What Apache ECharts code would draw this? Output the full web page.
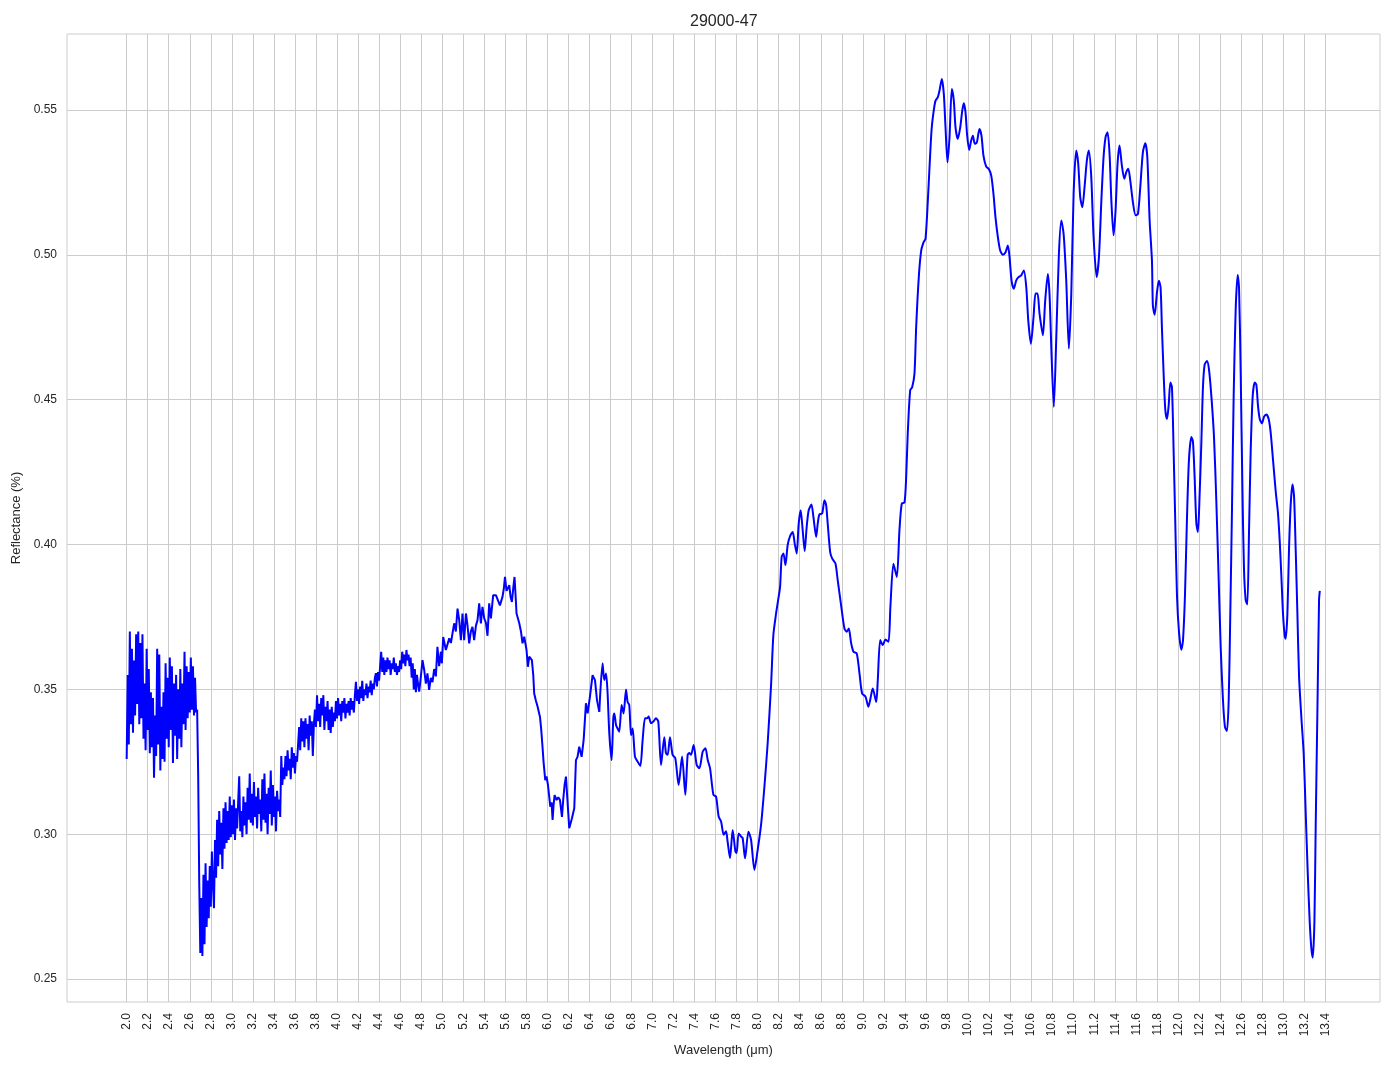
<!DOCTYPE html>
<html>
<head>
<meta charset="utf-8">
<script src="https://cdn.jsdelivr.net/npm/echarts@6/dist/echarts.min.js"></script>
<style>
html,body{margin:0;padding:0;background:#fff;}
#chart{width:1394px;height:1069px;}
</style>
</head>
<body>
<div id="chart"></div>
<script>
const chartTitle = "29000-47";
const xName = "Wavelength (μm)";
const yName = "Reflectance (%)";

const xTicks = [2.0,2.2,2.4,2.6,2.8,3.0,3.2,3.4,3.6,3.8,4.0,4.2,4.4,4.6,4.8,5.0,5.2,5.4,5.6,5.8,6.0,6.2,6.4,6.6,6.8,7.0,7.2,7.4,7.6,7.8,8.0,8.2,8.4,8.6,8.8,9.0,9.2,9.4,9.6,9.8,10.0,10.2,10.4,10.6,10.8,11.0,11.2,11.4,11.6,11.8,12.0,12.2,12.4,12.6,12.8,13.0,13.2,13.4];
const yTicks = [0.25,0.30,0.35,0.40,0.45,0.50,0.55];

// [wavelength (µm), reflectance]
const segA = [[2.00,0.326],[2.01,0.355],[2.02,0.331],[2.03,0.370],[2.04,0.338],[2.05,0.364],[2.06,0.335],[2.07,0.360],[2.08,0.341],[2.09,0.369],[2.10,0.345],[2.11,0.370],[2.12,0.338],[2.13,0.366],[2.14,0.340],[2.15,0.369],[2.16,0.333],[2.17,0.352],[2.18,0.329],[2.19,0.364],[2.20,0.336],[2.21,0.357],[2.22,0.328],[2.23,0.349],[2.24,0.330],[2.25,0.347],[2.26,0.3195],[2.27,0.341],[2.28,0.327],[2.29,0.364],[2.30,0.331],[2.31,0.362],[2.32,0.322],[2.33,0.344],[2.34,0.326],[2.35,0.349],[2.36,0.325],[2.37,0.359],[2.38,0.333],[2.39,0.354],[2.40,0.330],[2.41,0.361],[2.42,0.336],[2.43,0.358],[2.44,0.3246],[2.45,0.352],[2.46,0.334],[2.47,0.355],[2.48,0.326],[2.49,0.350],[2.50,0.333],[2.51,0.357],[2.52,0.330],[2.53,0.352],[2.54,0.338],[2.55,0.363],[2.56,0.336],[2.57,0.358],[2.58,0.340],[2.59,0.356],[2.60,0.342],[2.61,0.361],[2.62,0.343],[2.63,0.358],[2.64,0.341],[2.65,0.354],[2.66,0.342],[2.67,0.343]];
const segB = [[2.68,0.320],[2.69,0.283],[2.70,0.259],[2.71,0.278],[2.72,0.258],[2.73,0.286],[2.74,0.262],[2.75,0.290],[2.76,0.268],[2.77,0.284],[2.78,0.271],[2.79,0.289],[2.80,0.275],[2.81,0.294],[2.82,0.283],[2.83,0.2745],[2.84,0.298],[2.85,0.285],[2.86,0.305],[2.87,0.289],[2.88,0.308],[2.89,0.293],[2.90,0.304],[2.91,0.288],[2.92,0.309],[2.93,0.295],[2.94,0.311],[2.95,0.297],[2.96,0.308],[2.97,0.298],[2.98,0.313],[2.99,0.299],[3.00,0.310],[3.01,0.300],[3.02,0.312],[3.03,0.298],[3.04,0.309],[3.05,0.302],[3.06,0.311],[3.07,0.320],[3.08,0.301],[3.09,0.308],[3.10,0.299],[3.11,0.313],[3.12,0.303],[3.13,0.311],[3.14,0.300],[3.15,0.316],[3.16,0.305],[3.17,0.321],[3.18,0.304],[3.19,0.314],[3.20,0.303],[3.21,0.318],[3.22,0.306],[3.23,0.313],[3.24,0.302],[3.25,0.316],[3.26,0.307],[3.27,0.312],[3.28,0.301],[3.29,0.319],[3.30,0.305],[3.31,0.321],[3.32,0.304],[3.33,0.314],[3.34,0.300],[3.35,0.316],[3.36,0.307],[3.37,0.322],[3.38,0.303],[3.39,0.317],[3.40,0.306],[3.41,0.313],[3.42,0.301],[3.43,0.315],[3.44,0.308],[3.45,0.312],[3.46,0.306],[3.47,0.327],[3.48,0.317],[3.49,0.323],[3.50,0.319],[3.51,0.327],[3.52,0.320],[3.53,0.329],[3.54,0.322],[3.55,0.326],[3.56,0.319],[3.57,0.330],[3.58,0.323],[3.59,0.328],[3.60,0.321],[3.61,0.327],[3.62,0.325],[3.63,0.331]];
const segC = [[3.64,0.337],[3.65,0.329],[3.66,0.340],[3.67,0.332],[3.68,0.339],[3.69,0.330],[3.70,0.340],[3.71,0.333],[3.72,0.338],[3.73,0.329],[3.74,0.341],[3.75,0.334],[3.76,0.339],[3.77,0.327],[3.78,0.338],[3.79,0.343],[3.80,0.337],[3.81,0.348],[3.82,0.339],[3.83,0.345],[3.84,0.337],[3.85,0.347],[3.86,0.341],[3.87,0.348],[3.88,0.336],[3.89,0.344],[3.90,0.339],[3.91,0.346],[3.92,0.336],[3.93,0.343],[3.94,0.335],[3.95,0.344],[3.96,0.337],[3.97,0.342],[3.98,0.339],[3.99,0.346],[4.00,0.340],[4.01,0.347],[4.02,0.341],[4.03,0.345],[4.04,0.339],[4.05,0.346],[4.06,0.342],[4.07,0.347],[4.08,0.340],[4.09,0.345],[4.10,0.342],[4.11,0.346],[4.12,0.341],[4.13,0.347],[4.14,0.343],[4.15,0.346],[4.16,0.342],[4.17,0.348],[4.18,0.3526],[4.19,0.346],[4.20,0.350],[4.21,0.345],[4.22,0.351],[4.23,0.347],[4.24,0.353],[4.25,0.346],[4.26,0.350],[4.27,0.348],[4.28,0.352],[4.29,0.347],[4.30,0.351],[4.31,0.349],[4.32,0.353],[4.33,0.348],[4.34,0.352],[4.35,0.350],[4.36,0.354],[4.37,0.3556],[4.38,0.351],[4.39,0.356],[4.40,0.353],[4.41,0.358],[4.42,0.363],[4.43,0.356],[4.44,0.361],[4.45,0.355],[4.46,0.360],[4.47,0.356],[4.48,0.361],[4.49,0.357],[4.50,0.360],[4.51,0.355],[4.52,0.359],[4.53,0.357],[4.54,0.361],[4.55,0.356],[4.56,0.359],[4.57,0.355],[4.58,0.358],[4.59,0.356],[4.60,0.360],[4.61,0.357],[4.62,0.363],[4.63,0.359],[4.64,0.362],[4.65,0.358],[4.66,0.3636],[4.67,0.360],[4.68,0.362],[4.69,0.358],[4.70,0.361],[4.71,0.354],[4.72,0.359],[4.73,0.350],[4.74,0.357],[4.75,0.349],[4.76,0.355],[4.77,0.352]];
const segD = [[4.781,0.3492],[4.797,0.3543],[4.813,0.3601],[4.829,0.3567],[4.845,0.352],[4.860,0.3555],[4.876,0.3498],[4.892,0.354],[4.908,0.3525],[4.924,0.357],[4.940,0.3545],[4.955,0.3647],[4.971,0.358],[4.988,0.363],[4.997,0.359],[5.010,0.3681],[5.035,0.3636],[5.067,0.3676],[5.083,0.366],[5.098,0.3693],[5.114,0.3728],[5.130,0.370],[5.146,0.3779],[5.162,0.3739],[5.178,0.367],[5.193,0.3762],[5.209,0.367],[5.226,0.3762],[5.241,0.372],[5.257,0.3659],[5.273,0.370],[5.288,0.3716],[5.304,0.367],[5.321,0.372],[5.336,0.3739],[5.352,0.3797],[5.368,0.3728],[5.383,0.3785],[5.400,0.3745],[5.416,0.373],[5.431,0.3685],[5.447,0.3797],[5.463,0.3745],[5.485,0.3825],[5.511,0.3825],[5.526,0.3820],[5.549,0.379],[5.574,0.3820],[5.587,0.385],[5.597,0.3888],[5.612,0.384],[5.621,0.3842],[5.638,0.3860],[5.650,0.382],[5.663,0.3802],[5.676,0.385],[5.688,0.3888],[5.697,0.383],[5.707,0.3762],[5.733,0.3728],[5.749,0.370],[5.764,0.3659],[5.780,0.3682],[5.802,0.3636],[5.815,0.3578],[5.828,0.3613],[5.853,0.3601],[5.866,0.355],[5.875,0.3486],[5.892,0.346],[5.907,0.3441],[5.916,0.3441],[5.930,0.3405],[5.942,0.336],[5.954,0.3302],[5.964,0.325],[5.980,0.3187],[5.992,0.3200],[6.006,0.3170],[6.028,0.3095],[6.040,0.3110],[6.050,0.3049],[6.059,0.310],[6.069,0.3135],[6.088,0.3118],[6.104,0.3128],[6.120,0.3118],[6.139,0.306],[6.151,0.3120],[6.164,0.3170],[6.177,0.3199],[6.189,0.313],[6.208,0.3021],[6.234,0.3055],[6.256,0.3090],[6.272,0.3256],[6.287,0.3267],[6.303,0.3302],[6.326,0.3267],[6.345,0.3325],[6.367,0.3452],[6.383,0.3417],[6.405,0.3475],[6.430,0.3549],[6.453,0.3532],[6.472,0.3463],[6.494,0.3423]];
const segE = [[6.525,0.359],[6.541,0.3532],[6.558,0.3555],[6.573,0.3486],[6.589,0.3348],[6.611,0.3256],[6.627,0.3400],[6.637,0.3417],[6.653,0.3377],[6.668,0.3365],[6.684,0.3354],[6.706,0.3446],[6.725,0.3417],[6.748,0.350],[6.763,0.3457],[6.779,0.3446],[6.796,0.3342],[6.811,0.3365],[6.833,0.3268],[6.858,0.3251],[6.884,0.3236],[6.906,0.3325],[6.929,0.3400],[6.948,0.3400],[6.963,0.3406],[6.986,0.3383],[7.008,0.3389],[7.033,0.3400],[7.055,0.3389],[7.081,0.3239],[7.112,0.3335],[7.128,0.3280],[7.144,0.3274],[7.166,0.3335],[7.191,0.3274],[7.217,0.3262],[7.248,0.3170],[7.281,0.3268],[7.312,0.3136],[7.334,0.3274],[7.350,0.3280],[7.366,0.3274],[7.391,0.3308],[7.420,0.3239],[7.446,0.3228],[7.477,0.3285],[7.503,0.3297],[7.525,0.3256],[7.547,0.3228],[7.579,0.3136],[7.604,0.3130],[7.629,0.3061],[7.652,0.3044],[7.677,0.2998],[7.699,0.3010],[7.714,0.2975],[7.737,0.2917],[7.762,0.3015],[7.788,0.2941],[7.800,0.2935],[7.819,0.3003],[7.842,0.2992],[7.857,0.2987],[7.880,0.2917],[7.912,0.3009],[7.937,0.2981],[7.969,0.2877],[8.000,0.2946],[8.032,0.3032],[8.064,0.3164],[8.095,0.3314],[8.128,0.3520]];
const segF = [[8.149,0.3687],[8.175,0.3762],[8.197,0.3814],[8.213,0.3854],[8.228,0.3957],[8.245,0.3969],[8.264,0.3929],[8.285,0.3998],[8.308,0.4029],[8.333,0.4043],[8.352,0.4003],[8.371,0.3969],[8.390,0.4072],[8.409,0.4118],[8.428,0.4049],[8.447,0.3977],[8.466,0.4061],[8.485,0.4118],[8.511,0.4138],[8.530,0.4095],[8.556,0.4026],[8.571,0.4072],[8.587,0.4104],[8.613,0.4107],[8.635,0.4153],[8.651,0.4136],[8.666,0.4072],[8.689,0.3975],[8.708,0.3952],[8.739,0.3935],[8.761,0.3877],[8.793,0.3791],[8.825,0.3710],[8.847,0.3699],[8.866,0.3710],[8.889,0.3659],[8.911,0.3630],[8.942,0.3624],[8.968,0.3555],[8.993,0.3486],[9.025,0.3475],[9.053,0.3440],[9.072,0.3468],[9.094,0.3503],[9.127,0.3457],[9.142,0.3532],[9.165,0.3670],[9.189,0.3653],[9.215,0.3672],[9.244,0.3664],[9.262,0.3785],[9.291,0.3934],[9.323,0.3888],[9.348,0.4049],[9.370,0.4141],[9.396,0.4145]];
const segG = [[9.412,0.4233],[9.427,0.4383],[9.450,0.4532],[9.469,0.4543],[9.491,0.4590],[9.507,0.4750],[9.532,0.4923],[9.555,0.5015],[9.577,0.5043],[9.596,0.5055],[9.618,0.5187],[9.634,0.5302],[9.653,0.5429],[9.672,0.5492],[9.691,0.5532],[9.713,0.5544],[9.729,0.5567],[9.751,0.5607],[9.770,0.5555],[9.786,0.5440],[9.805,0.5319],[9.824,0.5405],[9.846,0.5572],[9.865,0.5532],[9.881,0.5440],[9.903,0.5400],[9.926,0.5440],[9.945,0.5497],[9.960,0.5523],[9.976,0.5492],[9.992,0.5411],[10.011,0.5362],[10.030,0.5394],[10.046,0.5411],[10.065,0.5383],[10.084,0.5388],[10.109,0.5434],[10.128,0.5411],[10.147,0.5342],[10.173,0.5304],[10.198,0.5296],[10.221,0.5273],[10.242,0.5210],[10.261,0.5130],[10.284,0.5061],[10.306,0.5015],[10.331,0.5000],[10.357,0.5009],[10.379,0.5032],[10.395,0.4992],[10.414,0.4911],[10.436,0.4883],[10.458,0.4911],[10.480,0.4923],[10.506,0.4929],[10.531,0.4946],[10.554,0.4888],[10.573,0.4773],[10.598,0.4693],[10.623,0.4785],[10.642,0.4866],[10.661,0.4866],[10.680,0.4797],[10.712,0.4722],[10.734,0.4842],[10.759,0.4934],[10.775,0.4865],[10.794,0.4658],[10.816,0.4475],[10.839,0.4710],[10.864,0.5000]];
const segH = [[10.887,0.5118],[10.909,0.5072],[10.934,0.4911],[10.959,0.4676],[10.982,0.4866],[11.004,0.5210],[11.029,0.5360],[11.048,0.5314],[11.067,0.5199],[11.087,0.5164],[11.108,0.5233],[11.130,0.5325],[11.149,0.5360],[11.172,0.5268],[11.194,0.5061],[11.223,0.4923],[11.245,0.4992],[11.268,0.5187],[11.289,0.5337],[11.308,0.5406],[11.327,0.5423],[11.346,0.5348],[11.363,0.5187],[11.384,0.5067],[11.403,0.5153],[11.422,0.5314],[11.441,0.5377],[11.463,0.5308],[11.486,0.5262],[11.505,0.5285],[11.524,0.5297],[11.543,0.5256],[11.568,0.5181],[11.594,0.5136],[11.616,0.5141],[11.638,0.5233],[11.663,0.5354],[11.686,0.5385],[11.705,0.5336],[11.727,0.5118],[11.749,0.4980]];
const segI = [[11.758,0.4824],[11.775,0.4793],[11.797,0.4871],[11.815,0.4910],[11.831,0.4887],[11.844,0.4747],[11.860,0.4590],[11.876,0.4465],[11.892,0.4433],[11.908,0.4480],[11.924,0.4559],[11.939,0.4544],[11.955,0.4324],[11.971,0.4074],[11.987,0.3824],[12.006,0.3699],[12.028,0.3637],[12.044,0.3668],[12.063,0.3824],[12.082,0.4090],[12.101,0.4293],[12.124,0.4371],[12.139,0.4355],[12.155,0.4230],[12.171,0.4074],[12.186,0.4043],[12.202,0.4168],[12.219,0.4355],[12.234,0.4543],[12.250,0.4621],[12.272,0.4633],[12.291,0.4605],[12.314,0.4512],[12.339,0.4371],[12.361,0.4152],[12.383,0.3887],[12.402,0.3652],[12.424,0.3465],[12.443,0.3371],[12.462,0.3356],[12.479,0.3465],[12.494,0.3762],[12.510,0.4121],[12.526,0.4512],[12.545,0.4809],[12.564,0.4930],[12.577,0.4887],[12.593,0.4590],[12.609,0.4199],[12.624,0.3918],[12.640,0.3809],[12.656,0.3793],[12.672,0.4043],[12.688,0.4324],[12.707,0.4512],[12.726,0.4559],[12.742,0.4551],[12.757,0.4480],[12.774,0.4433],[12.795,0.4418],[12.815,0.4441],[12.837,0.4449],[12.859,0.4433],[12.878,0.4386],[12.900,0.4293],[12.926,0.4183],[12.948,0.4105],[12.964,0.4011],[12.980,0.3887],[12.995,0.3762],[13.012,0.3683],[13.021,0.3675],[13.037,0.3762],[13.052,0.3980],[13.068,0.4136],[13.085,0.4207],[13.100,0.4168],[13.116,0.3980],[13.132,0.3762],[13.148,0.3543],[13.170,0.3402],[13.192,0.3277],[13.211,0.3074],[13.230,0.2871],[13.249,0.2699],[13.265,0.2605],[13.278,0.2574],[13.294,0.2699],[13.306,0.3027],[13.322,0.3418],[13.338,0.3809],[13.345,0.3840]];

const noisyPart = [].concat(segA, segB, segC, segD);
const smoothPart = [segD[segD.length - 1]].concat(segE, segF, segG, segH, segI);

const FONT = "'Liberation Sans', Arial, sans-serif";
const TXT = '#262626';
const GRIDC = '#cccccc';
const LINE = {color: '#0000ff', width: 2};

const chart = echarts.init(document.getElementById('chart'), null, {renderer: 'canvas'});
chart.setOption({
  animation: false,
  backgroundColor: '#ffffff',
  title: {
    text: chartTitle,
    left: 690, top: 14, padding: 0,
    textStyle: {fontFamily: FONT, fontSize: 16, fontWeight: 'normal', color: TXT}
  },
  grid: {
    left: 67, right: 14, top: 34, bottom: 67,
    show: true, borderColor: GRIDC, borderWidth: 1, backgroundColor: 'transparent'
  },
  xAxis: {
    type: 'value',
    min: 1.4325, max: 13.9175,
    name: xName, nameLocation: 'middle', nameGap: 38,
    nameTextStyle: {fontFamily: FONT, fontSize: 13, color: TXT},
    axisLine: {show: false},
    axisTick: {show: false, customValues: xTicks},
    axisLabel: {
      customValues: xTicks, rotate: 90, margin: 11,
      fontFamily: FONT, fontSize: 12, color: TXT,
      formatter: v => v.toFixed(1)
    },
    splitLine: {show: true, lineStyle: {color: GRIDC, width: 1}}
  },
  yAxis: {
    type: 'value',
    min: 0.2421, max: 0.5762,
    name: yName, nameLocation: 'middle', nameGap: 37,
    nameTextStyle: {fontFamily: FONT, fontSize: 13, color: TXT},
    axisLine: {show: false},
    axisTick: {show: false, customValues: yTicks},
    axisLabel: {
      customValues: yTicks, margin: 10,
      fontFamily: FONT, fontSize: 12, color: TXT,
      formatter: v => v.toFixed(2)
    },
    splitLine: {show: true, lineStyle: {color: GRIDC, width: 1}}
  },
  series: [{
    type: 'line',
    data: noisyPart,
    showSymbol: false,
    symbol: 'none',
    lineStyle: LINE,
    z: 3
  }, {
    type: 'line',
    data: smoothPart,
    showSymbol: false,
    symbol: 'none',
    smooth: 0.25,
    lineStyle: LINE,
    z: 3
  }]
});
</script>
</body>
</html>
